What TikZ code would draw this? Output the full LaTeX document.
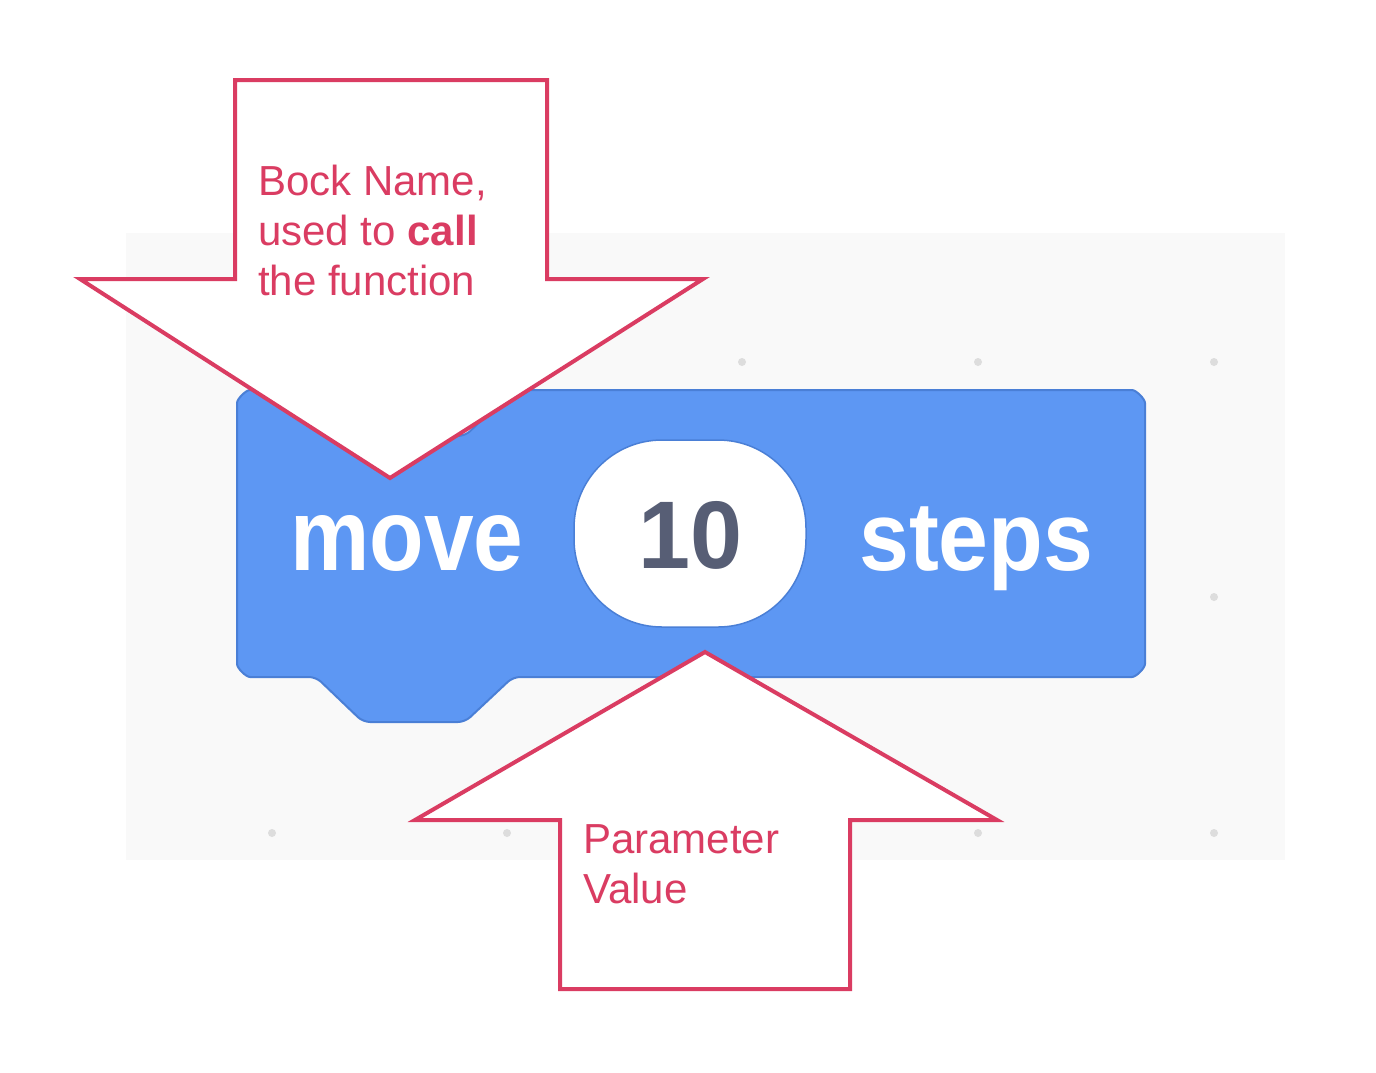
\documentclass[tikz,border=0pt]{standalone}
\usepackage{fontspec}
\setmainfont{Liberation Sans}
\definecolor{pinkc}{HTML}{DA3C62}
\definecolor{bgc}{HTML}{F9F9F9}
\definecolor{blockfill}{HTML}{5D97F3}
\definecolor{blockline}{HTML}{4A7FD6}
\definecolor{numc}{HTML}{575E75}
\definecolor{dotc}{HTML}{DDDDDD}
\begin{document}
\begin{tikzpicture}[x=1pt,y=-1pt,
  callout/.style={draw=pinkc,line width=4pt,fill=white,line join=miter},
  blockshape/.style={fill=blockfill,draw=blockline,line width=2pt},
  lbl/.style={inner sep=0pt,anchor=base west,text=pinkc,font=\fontsize{42}{50}\selectfont},
  dotmark/.style={fill=dotc,draw=none}]
\useasboundingbox (0,0) rectangle (1376,1072);
\fill[white] (0,0) rectangle (1376,1072);
% grey canvas
\fill[bgc] (126,233) rectangle (1285,860);
% grid dots
\foreach \gx in {272,507,742,978,1214}{
  \foreach \gy in {362,597,833}{
    \fill[dotmark] (\gx,\gy) circle[radius=4];
  }
}
% block
\draw[blockshape,rounded corners=7] (237,410) arc[start angle=180,end angle=270,radius=20]
  -- (313,390) -- (361,436) -- (465,436) -- (513,390)
  -- (1125,390) arc[start angle=270,end angle=360,radius=20]
  -- (1145,657) arc[start angle=0,end angle=90,radius=20]
  -- (513,677) -- (465,722) -- (363,722) -- (316,677)
  -- (257,677) arc[start angle=90,end angle=180,radius=20] -- cycle;
% input oval
\draw[fill=white,draw=blockline,line width=1.5pt,rounded corners=88] (574,440) rectangle (806,627);
\node[inner sep=0pt,anchor=base west,text=white] (move) at (290,570) {\resizebox{233pt}{55pt}{\bfseries move}};
\node[inner sep=0pt,anchor=base west,text=white] (steps) at (859,570) {\resizebox*{234pt}{84pt}{\bfseries steps}};
\node[inner sep=0pt,anchor=base west,text=numc] (num) at (638,568) {\resizebox*{104pt}{68pt}{\bfseries 10}};
% down callout
\draw[callout] (235,80) -- (547,80) -- (547,279) -- (703,279) -- (390,478) -- (80,279) -- (235,279) -- cycle;
% up callout
\draw[callout] (705,652) -- (997,820) -- (850,820) -- (850,989) -- (560,989) -- (560,820) -- (415,820) -- cycle;
% labels
\node[lbl] (l1) at (258,195) {Bock Name,};
\node[lbl] (l2) at (258,245) {used to \textbf{call}};
\node[lbl] (l3) at (258,295) {the function};
\node[lbl] (p1) at (583,853) {Parameter};
\node[lbl] (p2) at (583,903) {Value};
\end{tikzpicture}
\end{document}
